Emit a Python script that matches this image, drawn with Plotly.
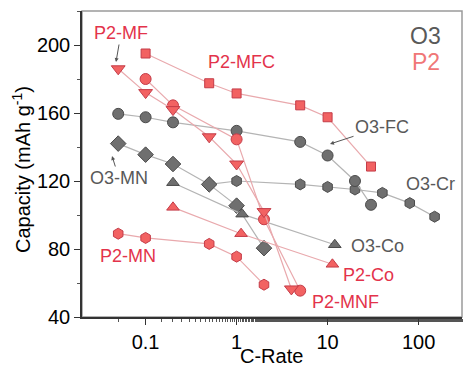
import math
import plotly.graph_objects as go

# ---- data ----
p2_mfc_x = [0.1, 0.5, 1, 5, 10, 30]
p2_mfc_y = [195, 177.5, 171.5, 164.5, 157.5, 128.5]

p2_mf_x = [0.05, 0.1, 0.2, 0.5, 1, 2, 4]
p2_mf_y = [186, 172, 162, 146, 130, 102, 56.5]

p2_mnf_x = [0.1, 0.2, 1, 2, 5]
p2_mnf_y = [180, 164.5, 144.5, 97.5, 55.5]

o3_fc_x = [0.05, 0.1, 0.2, 1, 5, 10, 20, 30]
o3_fc_y = [159.5, 157.5, 154.5, 149.5, 143, 135, 120, 106]

o3_cr_x = [0.5, 1, 5, 10, 20, 40, 80, 150]
o3_cr_y = [118, 120, 118, 116.5, 115, 113, 107, 99]

o3_mn_x = [0.05, 0.1, 0.2, 0.5, 1, 2]
o3_mn_y = [142, 135.5, 130, 118, 105.5, 80.5]

o3_co_x = [0.2, 1.15, 12]
o3_co_y = [119, 100.5, 82.5]

p2_co_x = [0.2, 1.12, 11.3]
p2_co_y = [104.5, 89, 71]

p2_mn_x = [0.05, 0.1, 0.5, 1, 2]
p2_mn_y = [89, 86.5, 83, 75.5, 59]

x_ticks = [0.1, 1, 10, 100]
x_ticklabels = ["0.1", "1", "10", "100"]
y_ticks = [40, 80, 120, 160, 200]

# ---- styles ----
RED_FILL = "#f26262"
RED_EDGE = "#c43c48"
RED_LINE = "#e9a9ad"
RED_TEXT = "#e3334b"
GRAY_FILL = "#6f6f6f"
GRAY_EDGE = "#4b4b4b"
GRAY_LINE = "#b4b4b4"
GRAY_TEXT = "#595959"
FONT = "Liberation Sans, Arial, sans-serif"

fig = go.Figure()


def add(x, y, symbol, red, size=11):
    fig.add_trace(go.Scatter(
        x=x, y=y, mode="lines+markers",
        line=dict(color=RED_LINE if red else GRAY_LINE, width=1.2),
        marker=dict(symbol=symbol, size=size,
                    color=RED_FILL if red else GRAY_FILL,
                    line=dict(color=RED_EDGE if red else GRAY_EDGE, width=1)),
        showlegend=False, hoverinfo="skip"))


add(o3_cr_x, o3_cr_y, "hexagon", False, 11)
add(o3_fc_x, o3_fc_y, "circle", False, 11)
add(o3_mn_x, o3_mn_y, "diamond", False, 12)
add(o3_co_x, o3_co_y, "triangle-up", False, 11)
add(p2_mn_x, p2_mn_y, "hexagon", True, 11)
add(p2_co_x, p2_co_y, "triangle-up", True, 11)
add(p2_mfc_x, p2_mfc_y, "square", True, 9)
add(p2_mnf_x, p2_mnf_y, "circle", True, 11)
add(p2_mf_x, p2_mf_y, "triangle-down", True, 12)

# plot area in page pixels (page has an 8px body margin)
OFF = 8
L, R, T, B = 82, 462, 11, 317
W, H = 476 - OFF, 374 - OFF


def px(x, y):
    return (x - L) / (R - L), (B - y) / (B - T)


def label(text, x, y, color, size=18, tip=None):
    xp, yp = px(x, y)
    if tip is None:
        fig.add_annotation(text=text, x=xp, y=yp, xref="paper", yref="paper",
                           showarrow=False, xanchor="center", yanchor="middle",
                           font=dict(family=FONT, size=size, color=color))
    else:
        tx, ty = px(*tip)
        fig.add_annotation(text=text, x=tx, y=ty, xref="paper", yref="paper",
                           showarrow=True, ax=x - tip[0], ay=y - tip[1],
                           arrowhead=2, arrowsize=0.8, arrowwidth=1,
                           arrowcolor="#555555", standoff=0,
                           font=dict(family=FONT, size=size, color=color))


label("P2-MF", 121, 33, RED_TEXT, tip=(116, 62))
label("P2-MFC", 241, 62, RED_TEXT)
label("O3", 425, 36, GRAY_TEXT, 23)
label("P2", 426, 62, "#f07777", 23)
label("O3-FC", 382, 127, GRAY_TEXT, tip=(330, 144))
label("O3-Cr", 430, 184, GRAY_TEXT)
label("O3-MN", 119, 178, GRAY_TEXT, tip=(112, 156))
label("O3-Co", 377, 246, GRAY_TEXT)
label("P2-Co", 368, 275, RED_TEXT)
label("P2-MNF", 345, 302, RED_TEXT)
label("P2-MN", 128, 256, RED_TEXT)

# axis titles
fig.add_annotation(text="C-Rate", x=px(271, 356)[0], y=px(271, 356)[1],
                   xref="paper", yref="paper", showarrow=False,
                   xanchor="center", yanchor="middle",
                   font=dict(family=FONT, size=20, color="black"))
fig.add_annotation(text="Capacity (mAh g<sup>-1</sup>)", x=px(22, 170)[0], y=px(22, 170)[1],
                   xref="paper", yref="paper", showarrow=False, textangle=-90,
                   xanchor="center", yanchor="middle",
                   font=dict(family=FONT, size=20, color="black"))

fig.add_shape(type="rect", xref="paper", yref="paper", x0=0, x1=1, y0=0, y1=1,
              line=dict(color="#9a9a9a", width=1.5), layer="below")

fig.update_layout(
    width=W, height=H,
    margin=dict(l=L - OFF, r=W - (R - OFF), t=T - OFF, b=H - (B - OFF), autoexpand=False),
    paper_bgcolor="white", plot_bgcolor="white",
    font=dict(family=FONT, color="black"),
    xaxis=dict(type="log", range=[math.log10(0.02), math.log10(300)],
               tickvals=x_ticks, ticktext=x_ticklabels, automargin=False,
               ticks="outside", ticklen=6, tickwidth=1.2, tickcolor="#333",
               showline=True, linecolor="#333", linewidth=1.5,
               showgrid=False, zeroline=False,
               tickfont=dict(size=20, family=FONT),
               minor=dict(ticks="outside", ticklen=3, tickcolor="#555", showgrid=False)),
    yaxis=dict(range=[40, 220], tickvals=y_ticks, automargin=False,
               ticks="outside", ticklen=6, tickwidth=1.2, tickcolor="#333",
               showline=True, linecolor="#333", linewidth=1.5,
               showgrid=False, zeroline=False,
               tickfont=dict(size=20, family=FONT),
               minor=dict(ticks="outside", ticklen=3, dtick=20, tickcolor="#555", showgrid=False)),
)

fig.write_html("out.html")
